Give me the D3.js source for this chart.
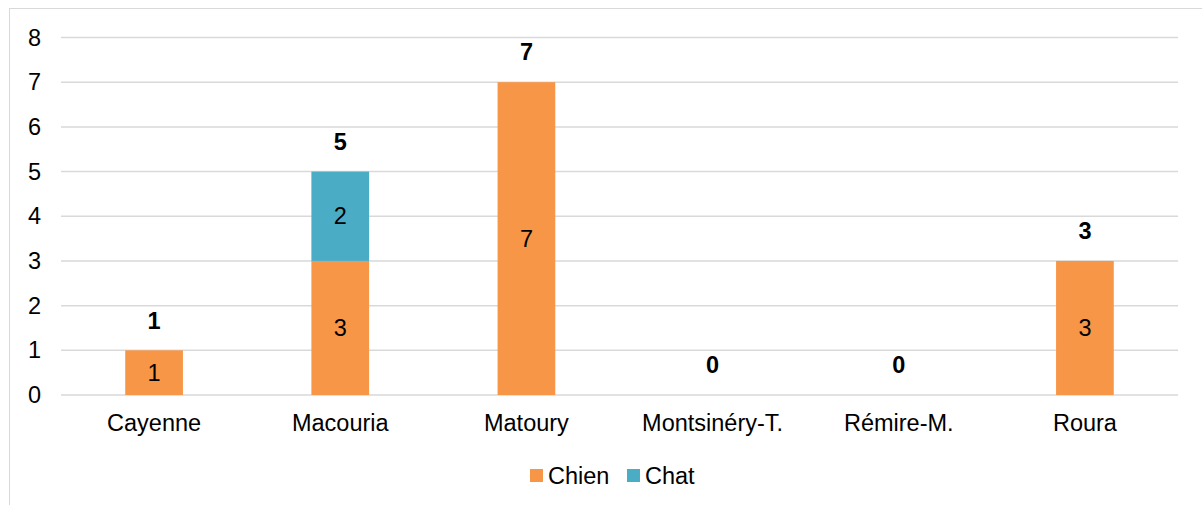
<!DOCTYPE html>
<html><head><meta charset="utf-8">
<script src="https://cdn.jsdelivr.net/npm/d3@7"></script>
<style>body{margin:0;background:#fff;}svg{display:block;font-family:"Liberation Sans",Arial,sans-serif;}</style>
</head><body>
<svg id="c" width="1202" height="505"></svg>
<script>
const categories = ["Cayenne","Macouria","Matoury","Montsinéry-T.","Rémire-M.","Roura"];
const chien = [1,3,7,0,0,3];
const chat = [0,2,0,0,0,0];
const seriesNames = ["Chien","Chat"];
const colors = ["#F79646","#4BACC6"];
const yTicks = [0,1,2,3,4,5,6,7,8];
const FS = 23.5;
const FF = "Liberation Sans, Arial, sans-serif";

const svg = d3.select("#c");
svg.append("rect").attr("x",9.5).attr("y",8.5).attr("width",1200).attr("height",510)
  .attr("fill","#fff").attr("stroke","#d9d9d9").attr("stroke-width",1);

const x = d3.scaleBand().domain(categories).range([61,1178]).paddingInner(0.69).paddingOuter(0.345);
const y = d3.scaleLinear().domain([0,8]).range([395,37.5]);

const g = svg.append("g");
g.selectAll("line.grid").data(yTicks).join("line")
  .attr("x1",61).attr("x2",1178).attr("y1",d=>y(d)).attr("y2",d=>y(d))
  .attr("stroke","#d9d9d9").attr("stroke-width",1.5);

const yAxis = d3.axisLeft(y).tickValues(yTicks).tickSize(0).tickPadding(0);
const ya = svg.append("g").attr("transform","translate(41,0)").call(yAxis);
ya.select(".domain").remove();
ya.selectAll("text").attr("font-size",FS).attr("fill","#000").attr("font-family",FF);

const data = categories.map((c,i)=>({cat:c, vals:[chien[i],chat[i]]}));
const stack = d3.stack().keys([0,1]).value((d,k)=>d.vals[k])(data);

stack.forEach((layer,k)=>{
  g.selectAll("rect.s"+k).data(layer).join("rect")
    .attr("x",d=>x(d.data.cat)).attr("width",x.bandwidth())
    .attr("y",d=>y(d[1])).attr("height",d=>y(d[0])-y(d[1]))
    .attr("fill",colors[k]);
  g.selectAll("text.s"+k).data(layer.filter(d=>d[1]-d[0]>0)).join("text")
    .attr("x",d=>x(d.data.cat)+x.bandwidth()/2)
    .attr("y",d=>(y(d[0])+y(d[1]))/2)
    .attr("dy","0.35em").attr("text-anchor","middle")
    .attr("font-size",FS).attr("fill","#000")
    .text(d=>d[1]-d[0]);
});

g.selectAll("text.tot").data(data).join("text")
  .attr("x",d=>x(d.cat)+x.bandwidth()/2)
  .attr("y",d=>y(d.vals[0]+d.vals[1])-30)
  .attr("dy","0.35em").attr("text-anchor","middle")
  .attr("font-size",FS).attr("font-weight","bold").attr("fill","#000")
  .text(d=>d.vals[0]+d.vals[1]);

const xAxis = d3.axisBottom(x).tickSize(0).tickPadding(0);
const xa = svg.append("g").attr("transform","translate(0,423)").call(xAxis);
xa.select(".domain").remove();
xa.selectAll("text").attr("font-size",FS).attr("fill","#000").attr("dy","0.35em").attr("y",0).attr("font-family",FF);

const leg = svg.append("g");
const legX = [530, 627];
seriesNames.forEach((n,i)=>{
  leg.append("rect").attr("x",legX[i]).attr("y",469).attr("width",13).attr("height",13).attr("fill",colors[i]);
  leg.append("text").attr("x",legX[i]+18).attr("y",475.5).attr("dy","0.35em")
    .attr("font-size",FS).attr("fill","#000").attr("font-family",FF).text(n);
});
</script>
</body></html>
